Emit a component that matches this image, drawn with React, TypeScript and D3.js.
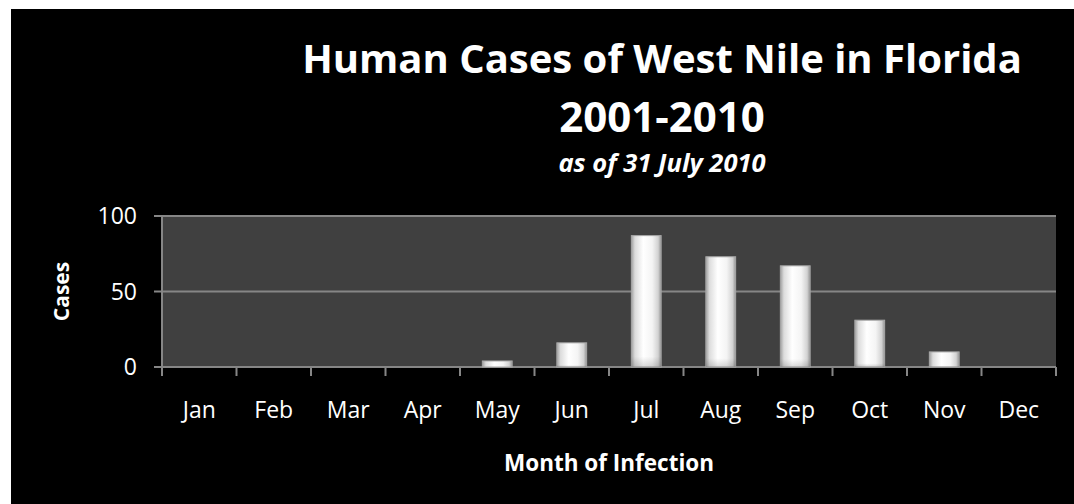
import React from 'react'
import * as d3 from 'd3'

const months = ['Jan', 'Feb', 'Mar', 'Apr', 'May', 'Jun', 'Jul', 'Aug', 'Sep', 'Oct', 'Nov', 'Dec']
const cases = [0, 0, 0, 0, 4, 16, 87, 73, 67, 31, 10, 0]
const yTicks = [0, 50, 100]

const titleLines = ['Human Cases of West Nile in Florida', '2001-2010']
const subtitle = 'as of 31 July 2010'

const W = 1074
const H = 504
const FONT = '"Open Sans", Lato, sans-serif'

export default function App() {
  const plot = { left: 162, right: 1056, top: 216, bottom: 367 }

  const x = d3.scaleBand<string>()
    .domain(months)
    .range([plot.left, plot.right])
    .paddingInner(0.6)
    .paddingOuter(0.3)

  const y = d3.scaleLinear()
    .domain([0, 100])
    .range([plot.bottom, plot.top])

  const step = x.step()
  const bandEdges = d3.range(months.length + 1).map(i => plot.left + i * step)

  return (
    <svg width={W} height={H} style={{ position: 'absolute', left: 0, top: 0, fontFamily: FONT }}>
      <defs>
        <linearGradient id="barH" x1="0" y1="0" x2="1" y2="0">
          <stop offset="0%" stopColor="#a0a0a0" />
          <stop offset="12%" stopColor="#dcdcdc" />
          <stop offset="40%" stopColor="#ffffff" />
          <stop offset="70%" stopColor="#f4f4f4" />
          <stop offset="90%" stopColor="#d2d2d2" />
          <stop offset="100%" stopColor="#939393" />
        </linearGradient>
        <linearGradient id="barV" x1="0" y1="0" x2="0" y2="1">
          <stop offset="0%" stopColor="#000" stopOpacity={0} />
          <stop offset="92%" stopColor="#000" stopOpacity={0} />
          <stop offset="100%" stopColor="#000" stopOpacity={0.15} />
        </linearGradient>
      </defs>

      <rect x={0} y={0} width={W} height={H} fill="#ffffff" />
      <rect x={11} y={9} width={W - 11} height={H - 9} fill="#000000" />

      {/* title */}
      <text x={662} y={73} textAnchor="middle" fill="#fff" fontWeight={700} fontSize={40}>{titleLines[0]}</text>
      <text x={662} y={132} textAnchor="middle" fill="#fff" fontWeight={700} fontSize={42}>{titleLines[1]}</text>
      <text x={662} y={172} textAnchor="middle" fill="#fff" fontWeight={700} fontStyle="italic" fontSize={25.5}>{subtitle}</text>

      {/* plot area */}
      <rect x={plot.left} y={plot.top} width={plot.right - plot.left} height={plot.bottom - plot.top} fill="#404040" />

      {yTicks.map(t => (
        <g key={t}>
          <line x1={plot.left - 8} x2={plot.right} y1={y(t)} y2={y(t)} stroke="#868686" strokeWidth={2} />
          <text x={137} y={y(t)} dy="0.36em" textAnchor="end" fill="#fff" fontSize={23}>{t}</text>
        </g>
      ))}
      <line x1={plot.left} x2={plot.left} y1={plot.top} y2={plot.bottom} stroke="#868686" strokeWidth={2} />

      {bandEdges.map((bx, i) => (
        <line key={i} x1={bx} x2={bx} y1={plot.bottom} y2={plot.bottom + 9} stroke="#868686" strokeWidth={2} />
      ))}

      {/* bars */}
      {months.map((m, i) => {
        const v = cases[i]
        if (!v) return null
        const bx = x(m) as number
        const by = y(v)
        const bh = y(0) - by
        return (
          <g key={m}>
            <rect x={bx} y={by} width={x.bandwidth()} height={bh} fill="url(#barH)" stroke="#a8a8a8" strokeWidth={1} />
            <rect x={bx} y={by} width={x.bandwidth()} height={bh} fill="url(#barV)" />
          </g>
        )
      })}

      {months.map(m => (
        <text key={m} x={(x(m) as number) + x.bandwidth() / 2} y={418} textAnchor="middle" fill="#fff" fontSize={23}>{m}</text>
      ))}

      <text x={(plot.left + plot.right) / 2} y={471} textAnchor="middle" fill="#fff" fontWeight={700} fontSize={22.5}>Month of Infection</text>
      <text transform={`translate(69, ${(plot.top + plot.bottom) / 2}) rotate(-90)`} textAnchor="middle" fill="#fff" fontWeight={700} fontSize={21}>Cases</text>
    </svg>
  )
}
